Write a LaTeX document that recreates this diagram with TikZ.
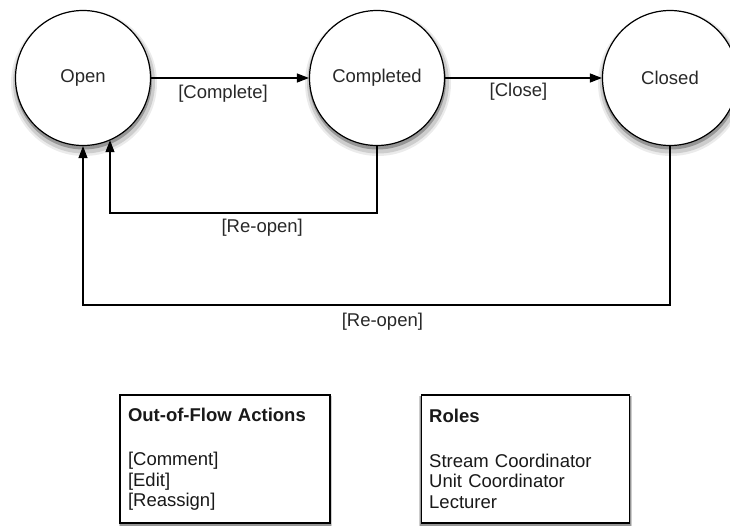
\documentclass[tikz,border=0pt]{standalone}
\usepackage{fontspec}
\setmainfont{Liberation Sans}
\usetikzlibrary{arrows.meta,positioning,calc}
\definecolor{LabelGrey}{RGB}{40,40,40}
\definecolor{ShadeOut}{RGB}{235,235,235}
\definecolor{ShadeMid}{RGB}{205,205,205}
\definecolor{ShadeIn}{RGB}{150,150,150}
\newcommand{\diagfont}{\fontsize{18.5}{20.5}\selectfont}
\tikzset{
  statenode/.style={circle, draw=black, line width=1.2pt, fill=white,
    minimum size=135pt, inner sep=0pt, font=\diagfont, text=LabelGrey},
  infobox/.style={draw=black, line width=1.2pt, fill=white, align=left,
    text width=194pt, inner xsep=8pt, minimum height=128pt,
    font=\diagfont, text=black!90},
  flowarrow/.style={-{Triangle[length=12pt,width=9pt]}, line width=1.2pt},
  flowlabel/.style={font=\diagfont, text=LabelGrey}
}

\begin{document}
\begin{tikzpicture}[x=1pt, y=-1pt]
  \useasboundingbox (0,0) rectangle (730,525);
  % soft shadows
  \foreach \cx in {83,377,670} {
    \fill[ShadeOut] (\cx+1,83) circle [radius=73pt];
    \fill[ShadeMid] (\cx+1,82.5) circle [radius=71pt];
    \fill[ShadeIn] (\cx+0.5,81) circle [radius=68.5pt];
  }
  \foreach \bx in {120,420} {
    \fill[ShadeMid] (\bx-1,396) rectangle (\bx+212,527);
    \fill[ShadeIn] (\bx,396) rectangle (\bx+210.5,525.5);
  }

  \node[statenode] (open) at (83,78) {Open};
  \node[statenode] (completed) at (377,78) {Completed};
  \node[statenode] (closed) at (670,78) {Closed};

  \coordinate (reopenA) at (110,213);
  \coordinate (reopenB) at (83,305);

  \draw[flowarrow] (open) -- (completed)
    node[flowlabel, midway, below=3pt, xshift=-7pt] {[Complete]};
  \draw[flowarrow] (completed) -- (closed)
    node[flowlabel, midway, below=1pt, xshift=-5pt] {[Close]};
  \draw[flowarrow] (completed.south) |- (reopenA)
    node[flowlabel, pos=0.715, below=2pt] {[Re-open]}
    -- (reopenA |- open.-66);
  \draw[flowarrow] (closed.south) |- (reopenB)
    node[flowlabel, pos=0.745, below=4pt] {[Re-open]}
    -- (open.south);

  \node[infobox] (actions) at (225,459)
    {\textbf{Out-of-Flow Actions}\\[24pt]{[Comment]}\\{[Edit]}\\{[Reassign]}};
  \node[infobox, right=90pt of actions, text width=192pt] (roles)
    {\textbf{Roles}\\[24pt]Stream Coordinator\\Unit Coordinator\\Lecturer};
\end{tikzpicture}
\end{document}
